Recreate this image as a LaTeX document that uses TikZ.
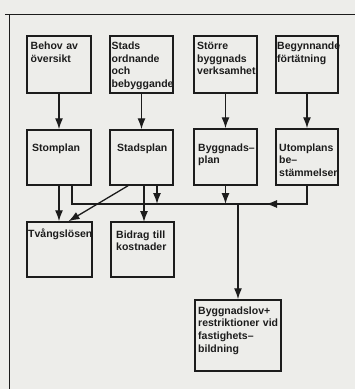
\documentclass[tikz,border=0pt]{standalone}
\usepackage{fontspec}
\setmainfont{Liberation Sans}
\usetikzlibrary{arrows.meta}
\definecolor{bg}{RGB}{237,237,234}
\definecolor{ink}{RGB}{28,28,28}
\begin{document}
\begin{tikzpicture}[x=1pt,y=-1pt,
  box/.style={draw=ink,line width=1.5pt,inner sep=0pt},
  txt/.style={anchor=base west,inner sep=0pt,text width=95pt,align=left,
    font=\bfseries\fontsize{10.5}{12.7}\selectfont,text=ink},
  link/.style={draw=ink,line width=1.3pt},
  arr/.style={link,-{Latex[length=11pt,width=8pt]}}]
\fill[bg] (0,0) rectangle (355,389);
\useasboundingbox (0,0) rectangle (355,389);
% frame
\draw[ink,line width=1pt] (5,14) -- (355,14);
\draw[ink,line width=1pt] (9,14) -- (9,389);
% boxes
\node[box,minimum width=64pt,minimum height=57pt] (b1) at (59,64.5) {};
\node[box,minimum width=63pt,minimum height=57pt] (b2) at (141.5,64.5) {};
\node[box,minimum width=63pt,minimum height=57pt] (b3) at (225.5,64.5) {};
\node[box,minimum width=62pt,minimum height=57pt] (b4) at (307,64.5) {};
\node[box,minimum width=64pt,minimum height=55pt] (b5) at (59,157.5) {};
\node[box,minimum width=63pt,minimum height=55pt] (b6) at (141.5,157.5) {};
\node[box,minimum width=63pt,minimum height=56pt] (b7) at (225.5,157) {};
\node[box,minimum width=62pt,minimum height=56pt] (b8) at (307,157) {};
\node[box,minimum width=65pt,minimum height=55pt] (b9) at (59.5,249.5) {};
\node[box,minimum width=63pt,minimum height=55pt] (b10) at (142.5,249.5) {};
\node[box,minimum width=86pt,minimum height=71pt] (b11) at (238,335.5) {};
% texts
\node[txt] (t1) at (30.5,49.5) {Behov av\\översikt};
\node[txt] (t2) at (111.5,49.5) {Stads\\ordnande\\och\\bebyggande};
\node[txt] (t3) at (197,49.5) {Större\\byggnads\\verksamhet};
\node[txt] (t4) at (277,49.5) {Begynnande\\förtätning};
\node[txt] (t5) at (32,151) {Stomplan};
\node[txt] (t6) at (117,151) {Stadsplan};
\node[txt] (t7) at (198,151) {Byggnads–\\plan};
\node[txt] (t8) at (279,151) {Utomplans\\be–\\stämmelser};
\node[txt] (t9) at (28,237) {Tvångslösen};
\node[txt] (t10) at (116,238) {Bidrag till\\kostnader};
\node[txt] (t11) at (198,314) {Byggnadslov+\\restriktioner vid\\fastighets–\\bildning};
% coordinates
\coordinate (jl) at (72,204);
\coordinate (jr) at (307,204);
\coordinate (ah1) at (292,204);
\coordinate (ah2) at (266,204);
\coordinate (sj) at (157,204);
\coordinate (bj) at (144,222);
% connectors
\draw[arr] (b1.south) -- (b5.north);
\draw[arr] (b2.south) -- (b6.north);
\draw[arr] (b3.south) -- (b7.north);
\draw[arr] (b4.south) -- (b8.north);
\draw[arr] (b5.south) -- (b5.south |- b9.north);
\draw[link] (b5.south -| jl) -- (jl) -- (jr) -- (b8.south);
\draw[arr] (ah1) -- (ah2);
\draw[arr] ([xshift=-13.5pt]b6.south) -- ([xshift=9pt]b9.north);
\draw[arr] (b6.south -| bj) -- (bj);
\draw[arr] (b6.south -| sj) -- (sj);
\draw[arr] (b7.south) -- (b7.south |- jl);
\draw[arr] (b11.north |- jl) -- (b11.north);
\end{tikzpicture}
\end{document}
